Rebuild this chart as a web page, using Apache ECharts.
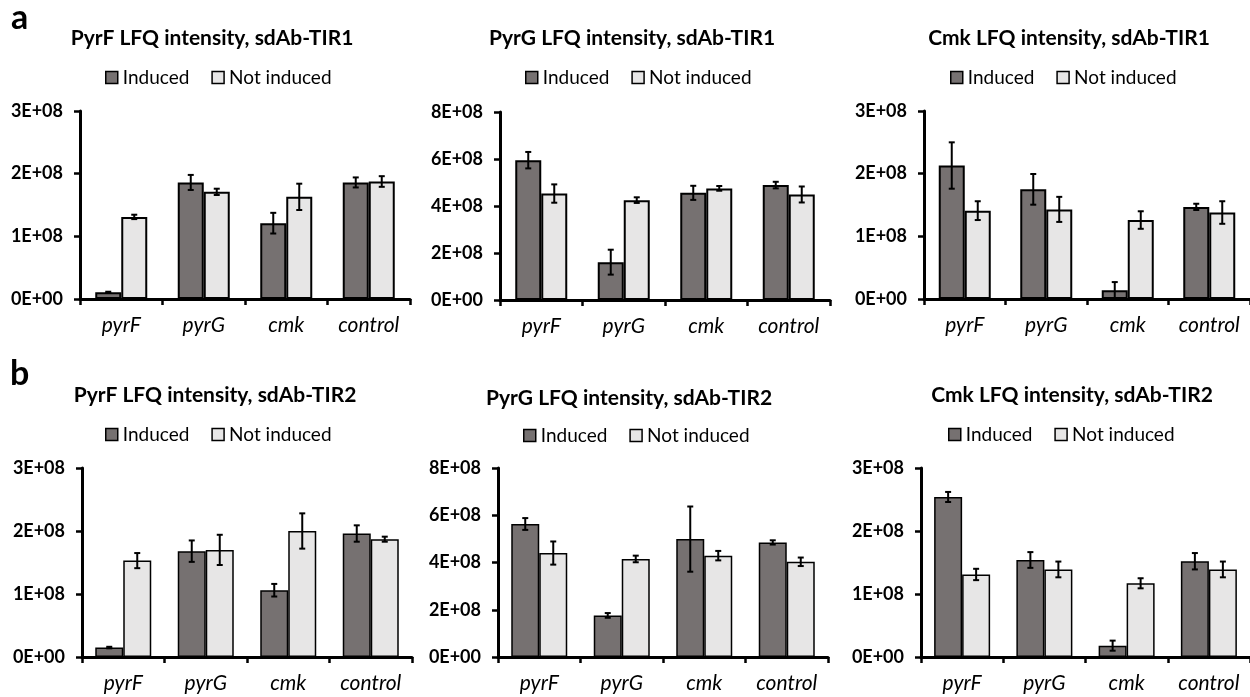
<!DOCTYPE html>
<html>
<head>
<meta charset="utf-8">
<script src="https://cdn.jsdelivr.net/npm/echarts@6/dist/echarts.min.js"></script>
<style>
html,body{margin:0;padding:0;background:#fff;}
#c{width:1250px;height:697px;}
</style>
</head>
<body>
<div id="c"></div>
<script>
const categories = ['pyrF', 'pyrG', 'cmk', 'control'];
const seriesNames = ['Induced', 'Not induced'];
const yTicks14 = [0, 1e8, 2e8, 3e8];
const yTicks8 = [0, 2e8, 4e8, 6e8, 8e8];

// Panel a1: PyrF LFQ intensity, sdAb-TIR1
const a1Induced = [1.06e7, 1.86e8, 1.21e8, 1.86e8];
const a1InducedErr = [0.1e7, 1.2e7, 1.65e7, 0.8e7];
const a1NotInduced = [1.31e8, 1.71e8, 1.63e8, 1.875e8];
const a1NotInducedErr = [0.35e7, 0.5e7, 2.1e7, 0.85e7];
// Panel a2: PyrG LFQ intensity, sdAb-TIR1
const a2Induced = [5.95e8, 1.61e8, 4.56e8, 4.89e8];
const a2InducedErr = [0.35e8, 0.53e8, 0.3e8, 0.14e8];
const a2NotInduced = [4.53e8, 4.25e8, 4.75e8, 4.49e8];
const a2NotInducedErr = [0.39e8, 0.12e8, 0.1e8, 0.34e8];
// Panel a3: Cmk LFQ intensity, sdAb-TIR1
const a3Induced = [2.13e8, 1.75e8, 0.14e8, 1.47e8];
const a3InducedErr = [0.37e8, 0.245e8, 0.13e8, 0.05e8];
const a3NotInduced = [1.41e8, 1.43e8, 1.26e8, 1.38e8];
const a3NotInducedErr = [0.15e8, 0.2e8, 0.14e8, 0.18e8];
// Panel b1: PyrF LFQ intensity, sdAb-TIR2
const b1Induced = [0.15e8, 1.68e8, 1.06e8, 1.96e8];
const b1InducedErr = [0.012e8, 0.17e8, 0.1e8, 0.13e8];
const b1NotInduced = [1.53e8, 1.70e8, 2.0e8, 1.87e8];
const b1NotInducedErr = [0.12e8, 0.24e8, 0.28e8, 0.04e8];
// Panel b2: PyrG LFQ intensity, sdAb-TIR2
const b2Induced = [5.63e8, 1.76e8, 4.99e8, 4.85e8];
const b2InducedErr = [0.25e8, 0.1e8, 1.38e8, 0.09e8];
const b2NotInduced = [4.40e8, 4.15e8, 4.29e8, 4.03e8];
const b2NotInducedErr = [0.49e8, 0.14e8, 0.2e8, 0.18e8];
// Panel b3: Cmk LFQ intensity, sdAb-TIR2
const b3Induced = [2.54e8, 1.54e8, 0.18e8, 1.52e8];
const b3InducedErr = [0.08e8, 0.125e8, 0.08e8, 0.13e8];
const b3NotInduced = [1.31e8, 1.39e8, 1.17e8, 1.39e8];
const b3NotInducedErr = [0.09e8, 0.125e8, 0.08e8, 0.125e8];

const FONT = 'Lato';
const C_IND = '#767171';
const C_NOT = '#e7e6e6';

const panels = [
  {title: 'PyrF LFQ intensity, sdAb-TIR1', tx: 212, ty: 38, lx: 100, ly: 63, grid: {left: 80, top: 111, width: 330, height: 188}, ticks: yTicks14, ind: a1Induced, indErr: a1InducedErr, not: a1NotInduced, notErr: a1NotInducedErr, bw: 26, bb: 2},
  {title: 'PyrG LFQ intensity, sdAb-TIR1', tx: 632, ty: 38, lx: 520, ly: 63, grid: {left: 500, top: 112, width: 330, height: 188}, ticks: yTicks8, ind: a2Induced, indErr: a2InducedErr, not: a2NotInduced, notErr: a2NotInducedErr, bw: 26, bb: 2},
  {title: 'Cmk LFQ intensity, sdAb-TIR1', tx: 1069, ty: 38, lx: 945, ly: 63, grid: {left: 924, top: 111, width: 330, height: 188}, ticks: yTicks14, ind: a3Induced, indErr: a3InducedErr, not: a3NotInduced, notErr: a3NotInducedErr, bw: 26, bb: 2},
  {title: 'PyrF LFQ intensity, sdAb-TIR2', tx: 215, ty: 395, lx: 100, ly: 420, grid: {left: 82, top: 468, width: 330, height: 189}, ticks: yTicks14, ind: b1Induced, indErr: b1InducedErr, not: b1NotInduced, notErr: b1NotInducedErr, bw: 28, bb: 1.5},
  {title: 'PyrG LFQ intensity, sdAb-TIR2', tx: 629, ty: 398, lx: 518, ly: 421, grid: {left: 498, top: 468, width: 330, height: 189}, ticks: yTicks8, ind: b2Induced, indErr: b2InducedErr, not: b2NotInduced, notErr: b2NotInducedErr, bw: 28, bb: 1.5},
  {title: 'Cmk LFQ intensity, sdAb-TIR2', tx: 1072, ty: 395, lx: 943, ly: 420, grid: {left: 921, top: 468, width: 332, height: 189}, ticks: yTicks14, ind: b3Induced, indErr: b3InducedErr, not: b3NotInduced, notErr: b3NotInducedErr, bw: 28, bb: 1.5}
];

function fmt(v) {
  if (v === 0) return '0E+00';
  return Math.round(v / 1e8) + 'E+08';
}

const grids = [], xAxes = [], yAxes = [], series = [], legends = [], graphics = [];

graphics.push({type: 'text', left: 11, top: 1, style: {text: 'a', font: 'bold 34px ' + FONT, fill: '#000'}});
graphics.push({type: 'text', left: 10, top: 357, style: {text: 'b', font: 'bold 34px ' + FONT, fill: '#000'}});

panels.forEach((p, i) => {
  grids.push(Object.assign({containLabel: false}, p.grid));
  graphics.push({type: 'text', x: p.tx, y: p.ty, style: {text: p.title, font: 'bold 21px ' + FONT, fill: '#000', align: 'center', verticalAlign: 'middle'}});
  legends.push({
    data: seriesNames, left: p.lx, top: p.ly, itemWidth: 12, itemHeight: 12, itemGap: 22, icon: 'rect',
    selectedMode: false,
    itemStyle: {borderColor: '#000', borderWidth: 1.5},
    textStyle: {fontFamily: FONT, fontSize: 19, color: '#000', padding: [0, 0, 0, 0]}
  });
  xAxes.push({
    type: 'category', gridIndex: i, data: categories,
    axisLine: {lineStyle: {color: '#000', width: 3}},
    axisTick: {show: true, length: 6, lineStyle: {color: '#000', width: 2.5}},
    axisLabel: {fontFamily: FONT, fontSize: 21, fontStyle: 'italic', color: '#000', margin: 16}
  });
  const tk = p.ticks;
  yAxes.push({
    type: 'value', gridIndex: i, min: 0, max: tk[tk.length - 1], interval: tk[1] - tk[0],
    axisLine: {show: true, lineStyle: {color: '#000', width: 3}},
    axisTick: {show: true, length: 6, lineStyle: {color: '#000', width: 2.5}},
    splitLine: {show: false},
    axisLabel: {fontFamily: FONT, fontSize: 18, fontWeight: 'bold', color: '#000', margin: 17, formatter: fmt}
  });
  series.push({
    type: 'bar', name: 'Induced', xAxisIndex: i, yAxisIndex: i, data: p.ind, barWidth: p.bw, barGap: 0,
    itemStyle: {color: C_IND, borderColor: '#000', borderWidth: p.bb}, silent: true, z: 2
  });
  series.push({
    type: 'bar', name: 'Not induced', xAxisIndex: i, yAxisIndex: i, data: p.not, barWidth: p.bw, barGap: 0,
    itemStyle: {color: C_NOT, borderColor: '#000', borderWidth: p.bb}, silent: true, z: 2
  });
  const errData = [];
  categories.forEach((c, k) => {
    errData.push([k, p.ind[k], p.indErr[k], -1]);
    errData.push([k, p.not[k], p.notErr[k], 1]);
  });
  const half = p.bw / 2;
  series.push({
    type: 'custom', xAxisIndex: i, yAxisIndex: i, data: errData, silent: true, z: 5,
    renderItem: function (params, api) {
      const k = api.value(0), v = api.value(1), e = api.value(2), side = api.value(3);
      const top = api.coord([k, v + e]);
      const bot = api.coord([k, v - e]);
      const x = top[0] + side * half;
      const cw = 3;
      const st = {stroke: '#000', lineWidth: 2};
      return {
        type: 'group', children: [
          {type: 'line', shape: {x1: x, y1: top[1], x2: x, y2: bot[1]}, style: st},
          {type: 'line', shape: {x1: x - cw, y1: top[1], x2: x + cw, y2: top[1]}, style: st},
          {type: 'line', shape: {x1: x - cw, y1: bot[1], x2: x + cw, y2: bot[1]}, style: st}
        ]
      };
    }
  });
});

const chart = echarts.init(document.getElementById('c'), null, {renderer: 'canvas'});
chart.setOption({
  animation: false,
  backgroundColor: '#fff',
  grid: grids, xAxis: xAxes, yAxis: yAxes, series: series, legend: legends, graphic: graphics
});
</script>
</body>
</html>
